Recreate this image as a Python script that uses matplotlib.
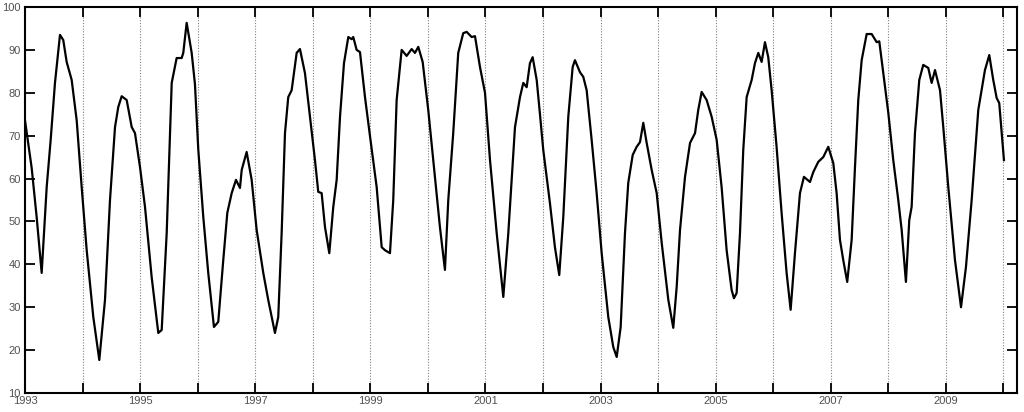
import numpy as np
import matplotlib
matplotlib.use("Agg")
import matplotlib.pyplot as plt

# time in years since 1993
t = [0.000, 0.116, 0.203, 0.290, 0.377, 0.446, 0.521, 0.608, 0.665, 0.724,
     0.811, 0.898, 0.985, 1.072, 1.187, 1.291, 1.390, 1.477, 1.564, 1.621,
     1.680, 1.767, 1.854, 1.911, 1.998, 2.085, 2.201, 2.316, 2.375, 2.462,
     2.549, 2.635, 2.722, 2.750, 2.809, 2.896, 2.953, 3.011, 3.098, 3.184,
     3.283, 3.358, 3.445, 3.515, 3.591, 3.666, 3.735, 3.765, 3.851, 3.938,
     4.025, 4.140, 4.226, 4.343, 4.400, 4.459, 4.517, 4.574, 4.633, 4.720,
     4.777, 4.864, 4.951, 5.038, 5.095, 5.154, 5.212, 5.287, 5.356, 5.415,
     5.473, 5.542, 5.617, 5.675, 5.703, 5.762, 5.820, 5.907, 5.993, 6.110,
     6.197, 6.254, 6.341, 6.398, 6.457, 6.544, 6.631, 6.718, 6.775, 6.833,
     6.909, 7.006, 7.093, 7.209, 7.296, 7.354, 7.440, 7.527, 7.614, 7.673,
     7.760, 7.818, 7.905, 7.992, 8.079, 8.195, 8.310, 8.397, 8.513, 8.600,
     8.657, 8.716, 8.773, 8.820, 8.890, 8.947, 9.004, 9.120, 9.207, 9.282,
     9.352, 9.439, 9.515, 9.555, 9.642, 9.700, 9.758, 9.845, 9.932, 10.019,
     10.134, 10.221, 10.280, 10.349, 10.424, 10.481, 10.558, 10.627, 10.685, 10.742,
     10.801, 10.888, 10.975, 11.062, 11.177, 11.263, 11.322, 11.380, 11.467, 11.554,
     11.641, 11.697, 11.756, 11.843, 11.930, 12.017, 12.103, 12.190, 12.277, 12.317,
     12.364, 12.422, 12.479, 12.538, 12.625, 12.682, 12.740, 12.798, 12.856, 12.913,
     12.972, 13.058, 13.145, 13.232, 13.302, 13.377, 13.464, 13.533, 13.638, 13.695,
     13.782, 13.869, 13.956, 14.043, 14.101, 14.159, 14.216, 14.285, 14.362, 14.420,
     14.477, 14.536, 14.623, 14.710, 14.797, 14.842, 14.912, 14.999, 15.085, 15.172,
     15.231, 15.305, 15.363, 15.404, 15.462, 15.537, 15.606, 15.693, 15.752, 15.810,
     15.897, 15.954, 16.041, 16.157, 16.262, 16.348, 16.447, 16.562, 16.678, 16.753,
     16.822, 16.881, 16.926, 17.008]
val = [73.6, 62.5, 51.0, 38.0, 58.0, 69.0, 82.3, 93.5, 92.3, 87.2,
       83.0, 73.6, 58.0, 43.3, 27.7, 17.7, 31.7, 55.0, 72.0, 76.7,
       79.2, 78.3, 72.0, 70.6, 62.7, 53.4, 37.0, 24.0, 24.7, 47.3,
       82.3, 88.1, 88.1, 89.3, 96.3, 89.3, 82.0, 66.7, 51.0, 38.0,
       25.4, 26.6, 41.0, 52.0, 56.6, 59.7, 57.8, 62.0, 66.2, 59.7,
       48.0, 38.0, 31.7, 24.0, 27.7, 47.3, 70.6, 79.0, 80.6, 89.3,
       90.2, 84.6, 74.4, 64.3, 56.9, 56.6, 48.7, 42.6, 53.4, 59.7,
       74.4, 86.9, 93.0, 92.5, 93.0, 90.0, 89.5, 79.0, 70.0, 58.0,
       44.0, 43.3, 42.6, 55.0, 78.3, 90.0, 88.6, 90.2, 89.3, 90.7,
       87.2, 76.0, 64.3, 48.7, 38.7, 55.0, 70.6, 89.3, 93.9, 94.2,
       93.0, 93.2, 86.0, 80.0, 64.3, 47.3, 32.4, 47.3, 72.0, 79.0,
       82.3, 81.3, 86.9, 88.3, 83.0, 75.0, 66.7, 54.3, 44.0, 37.5,
       51.0, 74.4, 86.0, 87.6, 84.8, 83.7, 80.6, 69.0, 56.6, 42.6,
       27.7, 20.7, 18.4, 25.4, 47.3, 59.0, 65.5, 67.4, 68.5, 73.0,
       68.3, 62.0, 56.6, 45.0, 31.7, 25.2, 34.7, 48.0, 60.4, 68.3,
       70.6, 76.0, 80.2, 78.3, 74.4, 69.0, 58.0, 43.3, 34.0, 32.1,
       33.3, 47.3, 66.7, 79.0, 83.0, 86.9, 89.3, 87.2, 91.8, 88.3,
       80.6, 67.4, 52.0, 38.0, 29.4, 42.6, 56.6, 60.4, 59.2, 61.5,
       63.9, 65.0, 67.4, 63.6, 56.6, 45.7, 41.0, 35.9, 45.7, 62.7,
       78.3, 87.6, 93.7, 93.7, 91.8, 92.0, 84.6, 75.3, 64.3, 55.0,
       48.0, 35.9, 50.3, 53.4, 70.6, 83.0, 86.5, 85.8, 82.3, 85.3,
       80.6, 72.0, 58.0, 41.0, 30.0, 39.4, 55.0, 76.0, 85.3, 88.8,
       83.0, 78.8, 77.6, 64.3]

years = np.arange(1993, 2011)
label_years = np.arange(1993, 2010, 2)
yticks = np.arange(10, 101, 10)

x = 1993 + np.array(t)

plt.rcParams['font.family'] = ['Liberation Sans', 'DejaVu Sans']

fig = plt.figure(figsize=(10.24, 4.12), dpi=100)
ax = fig.add_axes([0.0244, 0.0461, 0.9685, 0.9369])

for yr in years[1:]:
    ax.axvline(yr, color="#808080", lw=0.8, ls=(0, (1, 1.5)), zorder=1)

ax.plot(x, val, color="black", lw=1.6, zorder=3)

ax.set_xlim(1993, 2010.23)
ax.set_ylim(10, 100)
ax.set_xticks(years)
ax.set_xticklabels([str(y) if y in label_years else "" for y in years])
ax.set_yticks(yticks)

ax.tick_params(direction="in", length=7, width=1.3, top=True, right=True,
               labelsize=8, labelcolor="#505050", pad=2)
ax.tick_params(axis="x", pad=2)
ax.tick_params(axis="y", pad=3)
for s in ax.spines.values():
    s.set_linewidth(1.5)

fig.savefig("out.png", dpi=100)
